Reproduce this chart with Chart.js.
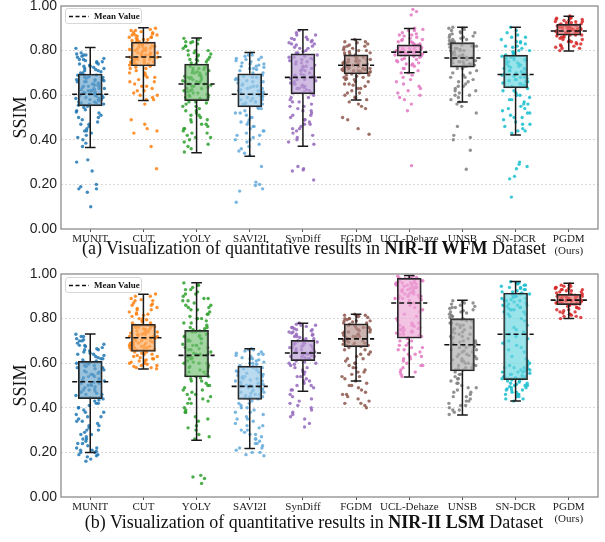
<!DOCTYPE html>
<html><head><meta charset="utf-8">
<script src="https://cdn.jsdelivr.net/npm/chart.js@4.4.1/dist/chart.umd.min.js"></script>
<style>
html,body{margin:0;padding:0;background:#fff;}
#wrap{position:relative;width:605px;height:542px;overflow:hidden;}
.pane{position:absolute;left:0;width:605px;height:260px;}
.cap{position:absolute;left:314px;transform:translateX(-50%);white-space:nowrap;font-family:'Liberation Serif',serif;font-size:18px;color:#111;line-height:20px;z-index:3;}
.leg{position:absolute;left:65px;width:77px;height:16px;border:1px solid #d8d8d8;border-radius:3px;background:rgba(255,255,255,0.9);box-sizing:border-box;z-index:3;}
.leg svg{position:absolute;left:3px;top:6px;}
.leg .tx{position:absolute;left:28px;top:0;line-height:14px;font-family:'Liberation Serif',serif;font-weight:bold;font-size:9px;color:#111;}
</style></head>
<body><div id="wrap">
<div class="pane" style="top:0"><canvas id="cA" width="605" height="260"></canvas></div>
<div class="pane" style="top:268px"><canvas id="cB" width="605" height="260"></canvas></div>
<div class="leg" style="top:8px"><svg width="20" height="3"><line x1="0" y1="1.5" x2="20" y2="1.5" stroke="#111" stroke-width="1.4" stroke-dasharray="4,2.5"/></svg><span class="tx">Mean Value</span></div>
<div class="leg" style="top:277px"><svg width="20" height="3"><line x1="0" y1="1.5" x2="20" y2="1.5" stroke="#111" stroke-width="1.4" stroke-dasharray="4,2.5"/></svg><span class="tx">Mean Value</span></div>
<div class="cap" style="top:238px">(a) Visualization of quantitative results in <b>NIR-II WFM</b> Dataset</div>
<div class="cap" style="top:512px">(b) Visualization of quantitative results in <b>NIR-II LSM</b> Dataset</div>
</div>
<script>
const categories = ['MUNIT','CUT','YOLY','SAVI2I','SynDiff','FGDM','UCL-Dehaze','UNSB','SN-DCR',['PGDM','(Ours)']];
const yTickValues = [0, 0.2, 0.4, 0.6, 0.8, 1.0];

// Panel (a) NIR-II WFM box statistics
const wfmLow  = [0.365,0.576,0.342,0.326,0.371,0.579,0.701,0.570,0.421,0.798];
const wfmQ1   = [0.552,0.731,0.576,0.548,0.606,0.695,0.775,0.726,0.633,0.869];
const wfmQ3   = [0.695,0.838,0.740,0.696,0.786,0.781,0.826,0.836,0.780,0.918];
const wfmHigh = [0.814,0.903,0.856,0.792,0.894,0.850,0.899,0.905,0.905,0.954];
const wfmMean = [0.604,0.771,0.650,0.604,0.680,0.734,0.793,0.767,0.693,0.888];

// Panel (b) NIR-II LSM box statistics
const lsmLow  = [0.199,0.574,0.254,0.218,0.474,0.520,0.538,0.368,0.430,0.800];
const lsmQ1   = [0.441,0.653,0.538,0.438,0.611,0.673,0.712,0.565,0.526,0.862];
const lsmQ3   = [0.608,0.774,0.747,0.587,0.703,0.777,0.981,0.800,0.915,0.909];
const lsmHigh = [0.731,0.909,0.961,0.665,0.779,0.819,0.993,0.882,0.966,0.958];
const lsmMean = [0.517,0.714,0.635,0.496,0.646,0.709,0.870,0.683,0.730,0.883];

// Panel (a) per-image SSIM samples
const wfmMUNIT = [0.81,0.79,0.785,0.78,0.775,0.77,0.765,0.76,0.755,0.75,0.745,0.74,0.735,0.73,0.73,0.725,0.72,0.715,0.71,0.705,0.70,
0.69,0.69,0.685,0.68,0.68,0.675,0.67,0.67,0.665,0.66,0.66,0.655,0.65,0.65,0.645,0.64,0.64,0.635,0.63,0.63,0.625,0.62,0.62,0.615,0.61,0.61,0.605,0.60,0.60,0.595,0.59,0.585,0.58,0.58,0.575,0.57,0.565,0.56,0.555,
0.545,0.535,0.525,0.51,0.50,0.49,0.48,0.47,0.46,0.45,0.44,0.43,0.42,0.40,0.385,0.37,0.31,0.30,0.26,0.20,0.19,0.18,0.18,0.165,0.10,
0.78,0.76,0.74,0.72,0.71,0.69,0.68,0.67,0.66,0.65,0.64,0.63,0.62,0.61,0.60,0.59,0.58,0.57,0.56,0.55,0.53,0.52,0.50,0.47,0.44,0.41,0.75,0.70,0.665,0.645,0.625,0.605,0.585,0.565];
const wfmCUT = [0.90,0.895,0.89,0.885,0.88,0.88,0.875,0.87,0.87,0.865,0.86,0.86,0.855,0.85,0.85,0.845,0.84,
0.835,0.83,0.83,0.825,0.82,0.82,0.815,0.81,0.81,0.805,0.80,0.80,0.795,0.79,0.79,0.785,0.78,0.78,0.775,0.77,0.77,0.765,0.76,0.76,0.755,0.75,0.75,0.745,0.74,0.74,0.735,
0.725,0.72,0.71,0.70,0.69,0.68,0.67,0.66,0.65,0.64,0.63,0.62,0.61,0.60,0.59,0.58,0.56,0.49,0.47,0.45,0.44,0.43,0.37,0.27,
0.89,0.87,0.86,0.85,0.84,0.83,0.82,0.81,0.80,0.79,0.78,0.77,0.76,0.75,0.74,0.73,0.72,0.70,0.68,0.66,0.64,0.62,0.60,0.58,0.825,0.805,0.785,0.765,0.745];
const wfmYOLY = [0.855,0.85,0.84,0.835,0.83,0.82,0.81,0.80,0.80,0.79,0.785,0.78,0.775,0.77,0.76,0.76,0.755,0.75,0.745,
0.735,0.73,0.725,0.72,0.715,0.71,0.705,0.70,0.70,0.695,0.69,0.685,0.68,0.68,0.675,0.67,0.665,0.66,0.66,0.655,0.65,0.645,0.64,0.635,0.63,0.625,0.62,0.615,0.61,0.605,0.60,0.595,0.59,0.585,0.58,
0.57,0.565,0.56,0.55,0.54,0.53,0.52,0.51,0.50,0.49,0.48,0.47,0.46,0.45,0.44,0.43,0.42,0.41,0.40,0.38,0.36,0.345,
0.84,0.82,0.80,0.78,0.76,0.74,0.72,0.70,0.69,0.67,0.65,0.63,0.61,0.59,0.57,0.55,0.53,0.51,0.49,0.47,0.45,0.43,0.41,0.39,0.37,0.71,0.68,0.66,0.64,0.62,0.60];
const wfmSAVI2I = [0.79,0.78,0.775,0.77,0.765,0.76,0.755,0.75,0.745,0.74,0.735,0.73,0.725,0.72,0.715,0.71,0.70,
0.69,0.685,0.68,0.675,0.67,0.665,0.66,0.655,0.65,0.645,0.64,0.635,0.63,0.625,0.62,0.615,0.61,0.605,0.60,0.595,0.59,0.585,0.58,0.575,0.57,0.565,0.56,0.555,
0.545,0.54,0.53,0.52,0.51,0.50,0.49,0.48,0.47,0.46,0.45,0.44,0.43,0.42,0.41,0.40,0.39,0.38,0.36,0.34,0.33,0.28,0.21,0.20,0.195,0.18,0.17,0.12,
0.78,0.76,0.74,0.72,0.70,0.68,0.66,0.64,0.62,0.60,0.58,0.56,0.54,0.52,0.50,0.48,0.46,0.44,0.42,0.40,0.37,0.35,0.73,0.67,0.63,0.61,0.59,0.57];
const wfmSynDiff = [0.89,0.88,0.87,0.86,0.855,0.85,0.845,0.84,0.835,0.83,0.825,0.82,0.815,0.81,0.80,0.795,0.79,
0.78,0.775,0.77,0.765,0.76,0.755,0.75,0.745,0.74,0.735,0.73,0.725,0.72,0.715,0.71,0.70,0.695,0.69,0.685,0.68,0.675,0.67,0.665,0.66,0.655,0.65,0.645,0.64,0.635,0.63,0.625,0.62,0.615,0.61,
0.60,0.59,0.58,0.57,0.56,0.55,0.54,0.53,0.52,0.51,0.50,0.49,0.48,0.47,0.46,0.45,0.44,0.43,0.42,0.40,0.38,0.28,0.27,0.265,0.26,0.22,
0.87,0.85,0.83,0.81,0.79,0.77,0.75,0.73,0.71,0.69,0.67,0.65,0.63,0.61,0.59,0.57,0.55,0.53,0.51,0.49,0.47,0.45,0.41,0.39,0.76,0.72,0.68,0.64];
const wfmFGDM = [0.85,0.84,0.835,0.83,0.825,0.82,0.815,0.81,0.805,0.80,0.795,0.79,0.785,
0.78,0.775,0.77,0.765,0.76,0.755,0.75,0.745,0.74,0.74,0.735,0.73,0.73,0.725,0.72,0.72,0.715,0.71,0.71,0.705,0.70,0.76,0.75,0.745,0.735,0.725,0.715,0.705,
0.69,0.685,0.68,0.67,0.66,0.65,0.645,0.64,0.63,0.62,0.61,0.60,0.59,0.58,0.57,0.56,0.55,0.54,0.50,0.49,0.45,0.425,
0.84,0.82,0.80,0.79,0.78,0.77,0.76,0.75,0.74,0.73,0.72,0.71,0.70,0.69,0.68,0.67,0.66,0.65,0.63,0.61,0.59,0.755,0.735,0.715,0.695,0.675];
const wfmUCL = [0.985,0.975,0.96,0.90,0.895,0.89,0.88,0.875,0.87,0.865,0.86,0.855,0.85,0.845,0.84,0.835,0.83,
0.825,0.82,0.82,0.815,0.81,0.81,0.805,0.80,0.80,0.80,0.795,0.79,0.79,0.785,0.78,0.78,0.775,0.82,0.81,0.80,0.79,0.785,
0.77,0.765,0.76,0.755,0.75,0.745,0.74,0.735,0.73,0.72,0.71,0.70,0.69,0.68,0.66,0.65,0.64,0.63,0.62,0.60,0.58,0.56,0.53,0.284,
0.89,0.87,0.85,0.84,0.83,0.825,0.815,0.805,0.795,0.785,0.775,0.81,0.80,0.79,0.78,0.76,0.74,0.72,0.70,0.67,0.61,0.59];
const wfmUNSB = [0.905,0.90,0.895,0.89,0.885,0.88,0.875,0.87,0.865,0.86,0.855,0.85,0.845,0.84,
0.835,0.83,0.825,0.82,0.815,0.81,0.805,0.80,0.795,0.79,0.785,0.78,0.775,0.77,0.765,0.76,0.755,0.75,0.745,0.74,0.735,0.73,0.82,0.80,0.78,0.76,0.74,
0.72,0.71,0.70,0.69,0.68,0.67,0.66,0.65,0.64,0.63,0.62,0.61,0.60,0.59,0.58,0.56,0.55,0.52,0.46,0.42,0.41,0.40,0.353,0.268,
0.90,0.88,0.86,0.85,0.84,0.83,0.82,0.81,0.80,0.79,0.78,0.77,0.76,0.75,0.74,0.73,0.72,0.70,0.68,0.66,0.64,0.62,0.60,0.57,0.79,0.77,0.75];
const wfmSNDCR = [0.905,0.89,0.87,0.86,0.85,0.84,0.835,0.83,0.82,0.815,0.81,0.80,0.795,0.79,0.785,
0.775,0.77,0.765,0.76,0.755,0.75,0.745,0.74,0.735,0.73,0.725,0.72,0.715,0.71,0.705,0.70,0.695,0.69,0.685,0.68,0.675,0.67,0.665,0.66,0.655,0.65,0.645,0.64,
0.63,0.62,0.61,0.60,0.59,0.58,0.57,0.56,0.55,0.54,0.53,0.52,0.51,0.50,0.49,0.48,0.47,0.46,0.45,0.44,0.43,0.30,0.29,0.28,0.27,0.236,0.225,0.143,
0.88,0.86,0.84,0.82,0.80,0.78,0.77,0.76,0.75,0.74,0.73,0.72,0.71,0.70,0.69,0.68,0.67,0.66,0.65,0.64,0.62,0.60,0.58,0.56,0.54,0.52,0.50,0.47,0.44];
const wfmPGDM = [0.955,0.95,0.945,0.94,0.935,0.93,0.925,0.92,0.945,0.935,0.93,0.925,
0.915,0.91,0.91,0.905,0.90,0.90,0.895,0.89,0.89,0.885,0.88,0.88,0.875,0.87,0.915,0.905,0.895,0.885,0.875,0.87,0.91,0.90,0.89,0.88,
0.865,0.86,0.855,0.85,0.845,0.84,0.835,0.83,0.825,0.82,0.815,0.81,0.80,
0.95,0.94,0.93,0.92,0.915,0.91,0.905,0.90,0.895,0.89,0.885,0.88,0.875,0.87,0.865,0.86,0.85,0.84,0.83,0.82,0.81,0.90,0.89,0.88];

// Panel (b) per-image SSIM samples
const lsmMUNIT = [0.73,0.72,0.71,0.705,0.70,0.69,0.685,0.68,0.675,0.67,0.665,0.66,0.655,0.65,0.645,0.64,0.635,0.63,0.625,0.62,0.615,0.61,
0.605,0.60,0.595,0.59,0.585,0.58,0.575,0.57,0.565,0.56,0.555,0.55,0.545,0.54,0.535,0.53,0.525,0.52,0.515,0.51,0.505,0.50,0.495,0.49,0.485,0.48,0.475,0.47,0.465,0.46,0.455,0.45,0.445,
0.435,0.43,0.42,0.41,0.40,0.39,0.38,0.37,0.36,0.35,0.34,0.33,0.32,0.31,0.30,0.29,0.28,0.27,0.26,0.25,0.24,0.23,0.22,0.21,0.205,0.20,0.19,0.185,0.18,0.17,0.16,
0.72,0.70,0.68,0.66,0.64,0.62,0.60,0.58,0.56,0.54,0.52,0.50,0.48,0.46,0.44,0.42,0.40,0.38,0.36,0.34,0.32,0.30,0.28,0.26,0.24,0.22,0.21,0.20,0.19,0.59,0.55,0.51,0.47];
const lsmCUT = [0.91,0.90,0.89,0.885,0.88,0.87,0.865,0.86,0.85,0.845,0.84,0.83,0.825,0.82,0.815,0.81,0.80,0.795,0.79,0.785,0.78,
0.77,0.765,0.76,0.755,0.75,0.745,0.74,0.735,0.73,0.725,0.72,0.715,0.71,0.705,0.70,0.695,0.69,0.685,0.68,0.675,0.67,0.665,0.66,0.655,0.76,0.74,0.72,0.70,0.68,0.66,0.75,0.73,0.71,0.69,0.67,
0.65,0.645,0.64,0.635,0.63,0.625,0.62,0.615,0.61,0.605,0.60,0.595,0.59,0.585,0.58,0.575,
0.90,0.88,0.86,0.84,0.82,0.80,0.79,0.78,0.77,0.76,0.75,0.74,0.73,0.72,0.71,0.70,0.69,0.68,0.67,0.66,0.65,0.64,0.63,0.62,0.61,0.60,0.59,0.58,0.735,0.715,0.695,0.675];
const lsmYOLY = [0.96,0.95,0.94,0.93,0.92,0.91,0.90,0.89,0.88,0.87,0.86,0.85,0.84,0.83,0.82,0.81,0.80,0.79,0.78,0.77,0.76,0.755,0.75,0.89,0.85,0.80,
0.745,0.74,0.73,0.725,0.72,0.71,0.705,0.70,0.69,0.685,0.68,0.67,0.665,0.66,0.65,0.645,0.64,0.63,0.625,0.62,0.61,0.605,0.60,0.59,0.585,0.58,0.57,0.565,0.56,0.55,0.545,0.54,0.72,0.68,0.64,0.60,
0.535,0.53,0.52,0.51,0.50,0.49,0.48,0.47,0.46,0.45,0.44,0.43,0.42,0.40,0.39,0.38,0.36,0.34,0.32,0.30,0.28,0.26,0.097,0.09,0.083,0.061,
0.95,0.93,0.91,0.88,0.86,0.84,0.82,0.80,0.78,0.76,0.74,0.72,0.70,0.68,0.66,0.64,0.62,0.60,0.58,0.56,0.54,0.52,0.50,0.48,0.46,0.44,0.42,0.38,0.35,0.31,0.27,0.71,0.67,0.63];
const lsmSAVI2I = [0.665,0.66,0.655,0.65,0.645,0.64,0.635,0.63,0.625,0.62,0.615,0.61,0.605,0.60,0.595,0.59,
0.585,0.58,0.575,0.57,0.565,0.56,0.555,0.55,0.545,0.54,0.535,0.53,0.525,0.52,0.515,0.51,0.505,0.50,0.495,0.49,0.485,0.48,0.475,0.47,0.465,0.46,0.455,0.45,0.445,0.44,0.56,0.54,0.52,0.50,
0.43,0.42,0.41,0.40,0.39,0.38,0.37,0.36,0.35,0.34,0.33,0.32,0.31,0.30,0.29,0.28,0.27,0.26,0.25,0.24,0.23,0.22,0.21,0.20,0.19,0.185,
0.66,0.64,0.62,0.60,0.58,0.56,0.55,0.54,0.53,0.52,0.51,0.50,0.49,0.48,0.47,0.46,0.45,0.44,0.42,0.40,0.38,0.35,0.32,0.30,0.28,0.26,0.24,0.22,0.20];
const lsmSynDiff = [0.78,0.775,0.77,0.765,0.76,0.755,0.75,0.745,0.74,0.735,0.73,0.725,0.72,0.715,0.71,0.705,
0.70,0.695,0.69,0.685,0.68,0.675,0.67,0.665,0.66,0.655,0.65,0.645,0.64,0.635,0.63,0.625,0.62,0.615,0.69,0.67,0.65,0.63,
0.605,0.60,0.595,0.59,0.58,0.57,0.56,0.55,0.54,0.53,0.52,0.51,0.50,0.49,0.48,0.46,0.45,0.44,0.42,0.41,0.40,0.39,0.38,0.36,0.35,0.33,0.314,
0.77,0.76,0.75,0.74,0.73,0.72,0.71,0.70,0.69,0.68,0.67,0.66,0.65,0.64,0.63,0.62,0.61,0.60,0.58,0.56,0.54,0.52,0.50,0.48,0.43,0.37];
const lsmFGDM = [0.82,0.815,0.81,0.805,0.80,0.795,0.79,0.785,0.78,0.81,0.80,0.79,
0.775,0.77,0.765,0.76,0.755,0.75,0.745,0.74,0.735,0.73,0.725,0.72,0.715,0.71,0.705,0.70,0.695,0.69,0.685,0.68,0.675,0.76,0.74,0.72,0.70,0.68,
0.67,0.66,0.65,0.64,0.63,0.62,0.61,0.60,0.59,0.58,0.57,0.56,0.55,0.54,0.53,0.52,0.51,0.50,0.49,0.48,0.47,0.46,0.45,0.44,0.43,0.42,0.41,0.40,
0.815,0.80,0.79,0.78,0.77,0.76,0.75,0.74,0.73,0.72,0.71,0.70,0.69,0.68,0.66,0.64,0.62,0.60,0.58,0.56,0.54,0.50,0.46,0.42];
const lsmUCL = [0.99,0.985,0.98,0.975,0.97,0.965,0.96,0.955,0.95,0.945,0.94,0.935,0.93,0.925,0.92,0.915,0.91,0.905,0.90,0.895,0.89,0.885,0.88,0.97,0.96,0.95,0.94,0.93,0.92,0.91,0.90,0.89,0.98,0.96,0.94,
0.87,0.86,0.85,0.84,0.83,0.82,0.81,0.80,
0.79,0.78,0.775,0.77,0.765,0.76,0.755,0.75,0.745,0.74,0.735,0.73,0.725,0.72,0.715,0.76,0.75,0.74,
0.71,0.70,0.69,0.68,0.67,0.66,0.65,0.64,0.63,0.62,0.61,0.60,0.59,0.58,0.57,0.56,0.55,0.54,0.68,0.66,0.64,0.62,
0.99,0.98,0.97,0.96,0.95,0.94,0.93,0.92,0.91,0.90,0.89,0.985,0.975,0.965,0.955,0.78,0.77,0.76,0.75,0.74,0.73,0.72,0.70,0.67,0.63,0.59,0.56];
const lsmUNSB = [0.88,0.875,0.87,0.865,0.86,0.855,0.85,0.845,0.84,0.835,0.83,0.825,0.82,0.815,0.81,0.805,
0.795,0.79,0.78,0.775,0.77,0.76,0.755,0.75,0.74,0.735,0.73,0.72,0.715,0.71,0.70,0.695,0.69,0.68,0.675,0.67,0.66,0.655,0.65,0.64,0.635,0.63,0.62,0.615,0.61,0.60,0.595,0.59,0.58,0.575,0.57,
0.56,0.55,0.54,0.53,0.52,0.51,0.50,0.49,0.48,0.47,0.46,0.45,0.44,0.43,0.42,0.41,0.40,0.39,0.38,0.37,
0.87,0.85,0.83,0.81,0.80,0.79,0.78,0.77,0.76,0.75,0.74,0.73,0.72,0.71,0.70,0.69,0.68,0.67,0.66,0.65,0.64,0.63,0.62,0.61,0.60,0.59,0.58,0.57,0.55,0.53,0.51,0.49,0.47,0.45,0.43,0.41,0.39];
const lsmSNDCR = [0.965,0.96,0.955,0.95,0.945,0.94,0.935,0.93,0.925,0.92,
0.915,0.91,0.905,0.90,0.895,0.89,0.885,0.88,0.875,0.87,0.865,0.86,0.855,0.85,0.845,0.84,0.83,0.82,0.81,0.80,0.90,0.88,0.86,0.84,
0.79,0.77,0.75,0.73,0.71,0.69,0.67,0.65,0.63,0.61,0.76,0.72,0.68,
0.60,0.59,0.58,0.575,0.57,0.565,0.56,0.555,0.55,0.545,0.54,0.535,0.53,0.58,0.56,0.54,
0.525,0.52,0.515,0.51,0.505,0.50,0.495,0.49,0.485,0.48,0.47,0.46,0.45,0.44,0.43,0.50,0.48,0.46,
0.96,0.95,0.94,0.93,0.92,0.91,0.90,0.89,0.88,0.87,0.86,0.85,0.84,0.83,0.82,0.59,0.58,0.57,0.56,0.55,0.54,0.53,0.52,0.51,0.50,0.49,0.48,0.47,0.46,0.45,0.44,0.74,0.70,0.66,0.62];
const lsmPGDM = [0.955,0.95,0.945,0.94,0.935,0.93,0.925,0.92,0.915,0.945,0.935,0.925,
0.905,0.90,0.895,0.89,0.885,0.88,0.875,0.87,0.865,0.905,0.895,0.885,0.875,0.865,0.90,0.89,0.88,0.87,0.90,0.88,
0.86,0.855,0.85,0.845,0.84,0.835,0.83,0.825,0.82,0.815,0.81,0.805,0.80,
0.95,0.94,0.93,0.92,0.91,0.90,0.895,0.89,0.885,0.88,0.875,0.87,0.865,0.86,0.85,0.84,0.83,0.82,0.81,0.93,0.91,0.89,0.87];

const wfmPoints = [wfmMUNIT,wfmCUT,wfmYOLY,wfmSAVI2I,wfmSynDiff,wfmFGDM,wfmUCL,wfmUNSB,wfmSNDCR,wfmPGDM];
const lsmPoints = [lsmMUNIT,lsmCUT,lsmYOLY,lsmSAVI2I,lsmSynDiff,lsmFGDM,lsmUCL,lsmUNSB,lsmSNDCR,lsmPGDM];

const colors = ['#1f77b4','#ff7f0e','#2ca02c','#63aadb','#9467bd','#8c564b','#e377c2','#7f7f7f','#17becf','#d62728'];
function rgb(h){const n=parseInt(h.slice(1),16);return [n>>16&255,n>>8&255,n&255];}
function hexA(h,a){const c=rgb(h);return `rgba(${c[0]},${c[1]},${c[2]},${a})`;}
function boxFill(h){const c=rgb(h).map(v=>Math.round(v*0.65+255*0.35));return `rgba(${c[0]},${c[1]},${c[2]},0.68)`;}
// horizontal spread of the strip points (display only, deterministic hash of index)
function jit(i,c){const s=Math.sin(i*78.233+c*12.9898)*43758.5453;return ((s-Math.floor(s))-0.5)*0.54;}

const framePlugin = {id:'frame', afterDatasetsDraw(chart){const {ctx, chartArea:a}=chart; ctx.save(); ctx.strokeStyle='#8c8c8c'; ctx.lineWidth=1.3; ctx.strokeRect(a.left,a.top,a.right-a.left,a.bottom-a.top); ctx.restore();}};

function build(id, low, q1, q3, high, mean, pts){
  const ds=[];
  pts.forEach((vals,c)=>{
    ds.push({type:'scatter', data: vals.map((v,i)=>({x:c+jit(i,c), y:v})), backgroundColor: hexA(colors[c],0.85), borderWidth:0, pointRadius:1.7, pointHoverRadius:1.7, order:5});
  });
  ds.push({type:'bar', data: categories.map((_,c)=>({x:c, y:[q1[c],q3[c]]})), backgroundColor: colors.map(boxFill), borderColor:'#262626', borderWidth:1.5, borderSkipped:false, barThickness:24, order:4});
  const wh=[], cap=[], mn=[];
  categories.forEach((_,c)=>{
    wh.push({x:c,y:low[c]},{x:c,y:q1[c]},{x:c,y:null},{x:c,y:q3[c]},{x:c,y:high[c]},{x:c,y:null});
    cap.push({x:c-0.1,y:low[c]},{x:c+0.1,y:low[c]},{x:c,y:null},{x:c-0.1,y:high[c]},{x:c+0.1,y:high[c]},{x:c,y:null});
    mn.push({x:c-0.34,y:mean[c]},{x:c+0.34,y:mean[c]},{x:c,y:null});
  });
  ds.push({type:'line', data:wh, borderColor:'#1a1a1a', borderWidth:1.5, pointRadius:0, spanGaps:false, fill:false, order:3});
  ds.push({type:'line', data:cap, borderColor:'#1a1a1a', borderWidth:1.5, pointRadius:0, spanGaps:false, fill:false, order:2});
  ds.push({type:'line', data:mn, borderColor:'#111', borderWidth:1.6, borderDash:[5,3], pointRadius:0, spanGaps:false, fill:false, order:1});
  new Chart(document.getElementById(id), {
    type:'scatter',
    data:{datasets:ds},
    plugins:[framePlugin],
    options:{
      responsive:false, animation:false, events:[],
      layout:{padding:{top:6,right:7,left:0,bottom:0}},
      plugins:{legend:{display:false}, tooltip:{enabled:false}},
      scales:{
        x:{type:'linear', min:-0.55, max:9.55, offset:false,
          afterBuildTicks:s=>{s.ticks=categories.map((_,i)=>({value:i}));},
          afterFit:s=>{s.height=31; s.paddingLeft=0; s.paddingRight=0;},
          ticks:{callback:v=>categories[v], font:{family:'Liberation Serif', size:11, lineHeight:1.1}, color:'#222', maxRotation:0, autoSkip:false, padding:1},
          grid:{offset:false, drawOnChartArea:false, drawTicks:true, tickLength:3, tickColor:'#555'},
          border:{display:false}},
        y:{type:'linear', min:0, max:1,
          afterBuildTicks:s=>{s.ticks=yTickValues.map(v=>({value:v}));},
          afterFit:s=>{s.width=61; s.paddingTop=0; s.paddingBottom=0;},
          ticks:{callback:v=>v.toFixed(2), font:{family:'Liberation Sans', size:14}, color:'#222', padding:4},
          grid:{drawTicks:false, lineWidth:0.8, color:ctx=>(ctx.tick && ctx.tick.value>0.01 && ctx.tick.value<0.99)?'#cfcfcf':'rgba(0,0,0,0)'},
          border:{display:false, dash:[2,2]},
          title:{display:true, text:'SSIM', font:{family:'Liberation Serif', size:18}, color:'#111', padding:{top:10,bottom:0}}}
      }
    }
  });
}
build('cA', wfmLow, wfmQ1, wfmQ3, wfmHigh, wfmMean, wfmPoints);
build('cB', lsmLow, lsmQ1, lsmQ3, lsmHigh, lsmMean, lsmPoints);
</script>
</body></html>
